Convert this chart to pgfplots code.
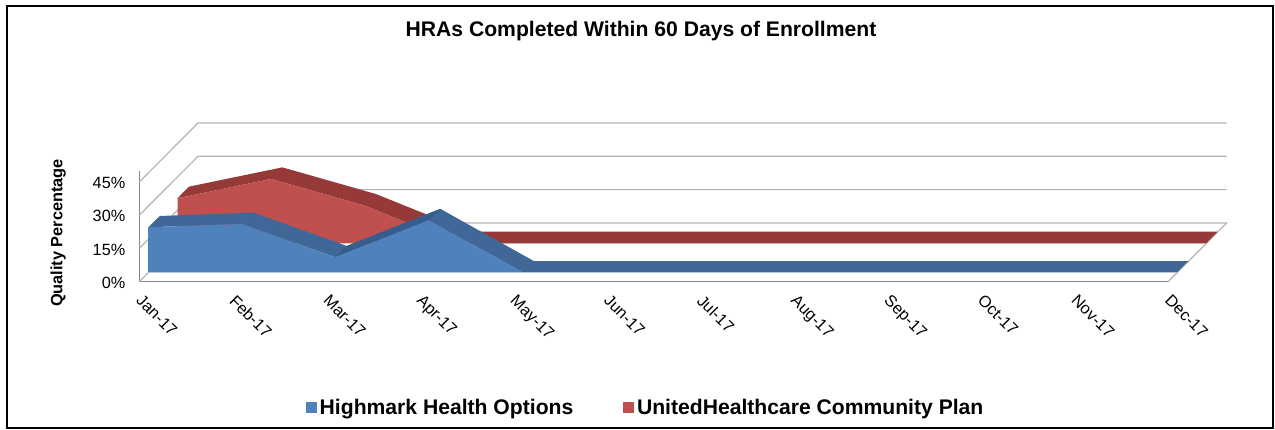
\documentclass[border=0pt]{standalone}
\usepackage{pgfplots}
\usepackage{pgfplotstable}
\pgfplotsset{compat=1.18}
\usepackage{fontspec}
\setmainfont{Liberation Sans}
\definecolor{bluefront}{HTML}{4F81BD}
\definecolor{bluetop}{HTML}{3F6899}
\definecolor{bluetopd}{HTML}{375D8C}
\definecolor{blueedge}{HTML}{B3C6DE}
\definecolor{redfront}{HTML}{C0504D}
\definecolor{redtop}{HTML}{953A38}
\definecolor{gridc}{HTML}{B4B4B4}
\definecolor{axisc}{HTML}{868686}
% front outlines: month, percent
\pgfplotstableread{
m v
0 0
0 20.3
1 21.8
2 6.8
3 23.5
4 0
11 0
}\bluefronttbl
\pgfplotstableread{
m v
0 0
0 20.3
1 29.0
2 17.0
3 0
11 0
}\redfronttbl
% top strips: month, percent, d (0 = front edge, 1 = back edge)
\pgfplotstableread{
m v d
0 20.3 0
1 21.8 0
2 6.8 0
3 23.5 0
4 0 0
11 0 0
11 0 1
4 0 1
3 23.5 1
2 6.8 1
1 21.8 1
0 20.3 1
}\bluetoptbl
\pgfplotstableread{
m v d
2 6.8 0
3 23.5 0
3 23.5 1
2 6.8 1
}\bluerisetbl
\pgfplotstableread{
m v d
0 20.3 0
1 29.0 0
2 17.0 0
3 0 0
11 0 0
11 0 1
3 0 1
2 17.0 1
1 29.0 1
0 20.3 1
}\redtoptbl
% walls: month, percent (front to back)
\pgfplotstableread{
m v d
0 45 0
0 45 1
11 45 1
}\gridA
\pgfplotstableread{
m v d
0 30 0
0 30 1
11 30 1
}\gridB
\pgfplotstableread{
m v d
0 15 0
0 15 1
11 15 1
}\gridC
\pgfplotstableread{
m v d
0 0 0
0 0 1
11 0 1
11 0 0
}\gridD
\pgfplotstableread{
m v
0 0
11 0
}\baseline
\pgfplotsset{wall/.style={forget plot,gridc,line width=0.9pt}}
\begin{document}
\begin{tikzpicture}
\path[fill=white] (0,0) rectangle (956.25pt,-321.75pt);
\draw[black,line width=1.5pt] (5.25pt,-4.5pt) rectangle (954.75pt,-320.8pt);
\begin{axis}[
  at={(104.5pt,-211.3pt)},anchor=south west,
  scale only axis,width=771.5pt,height=83.25pt,
  xmin=0,xmax=11,ymin=0,ymax=50,
  clip=false,
  axis x line=bottom,axis y line=left,
  axis line style={-,color=axisc,line width=0.8pt},
  major tick length=0pt,
  xtick={0,...,11},
  xticklabels={Jan-17,Feb-17,Mar-17,Apr-17,May-17,Jun-17,Jul-17,Aug-17,Sep-17,Oct-17,Nov-17,Dec-17},
  xticklabel style={rotate=-45,anchor=north west,font=\fontsize{12.2}{14}\selectfont,xshift=5pt,yshift=-0.7pt},
  ytick={0,15,30,45},
  yticklabels={0\%,15\%,30\%,45\%},
  yticklabel style={font=\fontsize{12.2}{14}\selectfont,xshift=-7pt,yshift=-0.8pt},
  title={HRAs Completed Within 60 Days of Enrollment},
  title style={at={(axis description cs:0.4877,2.187)},anchor=center,font=\fontsize{15.85}{18}\selectfont\bfseries},
  ylabel={Quality Percentage},
  ylabel style={at={(axis description cs:-0.079,0.439)},anchor=center,font=\fontsize{12.25}{14}\selectfont\bfseries},
  legend columns=2,
  legend cell align=left,
  legend style={at={(axis description cs:0.1618,-1.133)},anchor=west,draw=none,fill=none,inner sep=0pt,
    font=\fontsize{15.85}{18}\selectfont\bfseries,
    /tikz/every even column/.append style={column sep=35.5pt}},
  legend image code/.code={\fill[#1,draw=none] (0pt,-4.2pt) rectangle (8.25pt,4.2pt);},
]
\addlegendimage{fill=bluefront,draw=none}
\addlegendentry{Highmark Health Options}
\addlegendimage{fill=redfront,draw=none}
\addlegendentry{UnitedHealthcare Community Plan}
% back wall and side wall
\addplot[wall] table[x expr=\thisrow{m}+0.6277*\thisrow{d},y expr=\thisrow{v}+26.5*\thisrow{d}] {\gridA};
\addplot[wall] table[x expr=\thisrow{m}+0.6277*\thisrow{d},y expr=\thisrow{v}+26.5*\thisrow{d}] {\gridB};
\addplot[wall] table[x expr=\thisrow{m}+0.6277*\thisrow{d},y expr=\thisrow{v}+26.5*\thisrow{d}] {\gridC};
\addplot[wall] table[x expr=\thisrow{m}+0.6277*\thisrow{d},y expr=\thisrow{v}+26.5*\thisrow{d}] {\gridD};
% red series
\addplot[forget plot,fill=redtop,draw=none] table[x expr=\thisrow{m}+0.4085+0.1208*\thisrow{d},y expr=\thisrow{v}+17.3+5.22*\thisrow{d}] {\redtoptbl} --cycle;
\addplot[forget plot,fill=redfront,draw=none] table[x expr=\thisrow{m}+0.4085,y expr=\thisrow{v}+17.3] {\redfronttbl} --cycle;
% blue series
\addplot[forget plot,fill=bluetop,draw=none] table[x expr=\thisrow{m}+0.0952+0.1238*\thisrow{d},y expr=\thisrow{v}+4.23+5.09*\thisrow{d}] {\bluetoptbl} --cycle;
\addplot[forget plot,fill=bluetopd,draw=none] table[x expr=\thisrow{m}+0.0952+0.1238*\thisrow{d},y expr=\thisrow{v}+4.23+5.09*\thisrow{d}] {\bluerisetbl} --cycle;
\addplot[forget plot,fill=bluefront,draw=none] table[x expr=\thisrow{m}+0.0952,y expr=\thisrow{v}+4.23] {\bluefronttbl} --cycle;
\addplot[forget plot,blueedge,line width=0.6pt] table[x expr=\thisrow{m}+0.0952,y expr=\thisrow{v}+4.1] {\baseline};
\end{axis}
\end{tikzpicture}
\end{document}
